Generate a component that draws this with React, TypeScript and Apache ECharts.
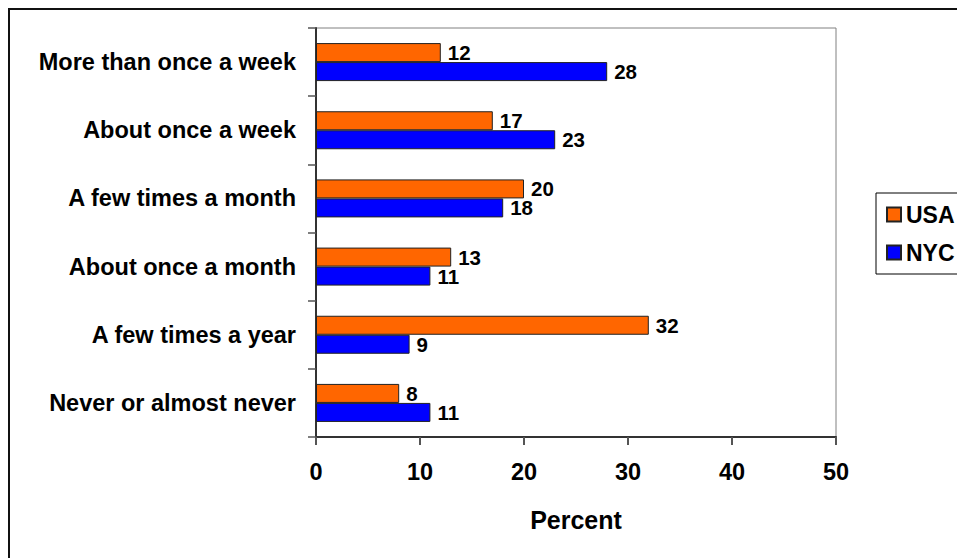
import React, { useEffect, useRef } from "react";
import * as echarts from "echarts";

// Categories listed bottom-to-top along the category axis
const categories = [
  "Never or almost never",
  "A few times a year",
  "About once a month",
  "A few times a month",
  "About once a week",
  "More than once a week",
];
const usaValues = [8, 32, 13, 20, 17, 12];
const nycValues = [11, 9, 11, 18, 23, 28];
const percentTicks = { min: 0, max: 50, interval: 10 };

const FONT = "'Liberation Sans', Arial, Helvetica, sans-serif";

export default function App() {
  const ref = useRef<HTMLDivElement>(null);

  useEffect(() => {
    if (!ref.current) return;
    const chart = echarts.init(ref.current, undefined, { renderer: "svg" });

    const valueLabel = {
      show: true,
      position: "right" as const,
      distance: 7,
      color: "#000",
      fontFamily: FONT,
      fontWeight: "bold" as const,
      fontSize: 20.5,
    };

    chart.setOption({
      animation: false,
      backgroundColor: "#fff",
      textStyle: { fontFamily: FONT },
      graphic: [
        {
          type: "polyline",
          shape: { points: [[1, 600], [1, 1], [1000, 1]] },
          style: { stroke: "#111", lineWidth: 2, fill: "none" },
          silent: true,
        },
      ],
      grid: {
        left: 308,
        top: 20,
        width: 520,
        height: 409,
        show: true,
        borderColor: "#808080",
        borderWidth: 1,
        backgroundColor: "transparent",
      },
      legend: {
        orient: "vertical",
        left: 868,
        top: 185,
        data: ["USA", "NYC"],
        itemWidth: 14,
        itemHeight: 14,
        itemGap: 15,
        padding: [10, 30, 10, 10],
        borderColor: "#000",
        borderWidth: 1,
        icon: "rect",
        textStyle: {
          fontFamily: FONT,
          fontWeight: "bold",
          fontSize: 23,
          color: "#000",
        },
      },
      xAxis: {
        type: "value",
        min: percentTicks.min,
        max: percentTicks.max,
        interval: percentTicks.interval,
        name: "Percent",
        nameLocation: "middle",
        nameGap: 70,
        nameTextStyle: {
          fontFamily: FONT,
          fontWeight: "bold",
          fontSize: 25,
          color: "#000",
        },
        axisLine: { show: true, lineStyle: { color: "#333", width: 2 } },
        axisTick: { show: true, length: 8, lineStyle: { color: "#555", width: 2 } },
        splitLine: { show: false },
        axisLabel: {
          margin: 23,
          fontFamily: FONT,
          fontWeight: "bold",
          fontSize: 23.5,
          color: "#000",
        },
      },
      yAxis: {
        type: "category",
        data: categories,
        axisLine: { show: true, lineStyle: { color: "#333", width: 2 } },
        axisTick: { show: true, length: 8, lineStyle: { color: "#555", width: 1.5 } },
        axisLabel: {
          margin: 20,
          fontFamily: FONT,
          fontWeight: "bold",
          fontSize: 23.5,
          color: "#000",
        },
      },
      series: [
        {
          name: "USA",
          type: "bar",
          data: usaValues,
          barWidth: 19,
          barGap: "0%",
          itemStyle: { color: "#FF6600", borderColor: "#222", borderWidth: 1 },
          label: valueLabel,
        },
        {
          name: "NYC",
          type: "bar",
          data: nycValues,
          barWidth: 19,
          barGap: "0%",
          itemStyle: { color: "#0000FF", borderColor: "#222", borderWidth: 1 },
          label: valueLabel,
        },
      ],
    });

    return () => chart.dispose();
  }, []);

  // Fixed placement keeps the page from growing a scrollbar
  return (
    <div
      ref={ref}
      style={{ position: "fixed", left: 8, top: 8, width: 949, height: 550 }}
    />
  );
}
